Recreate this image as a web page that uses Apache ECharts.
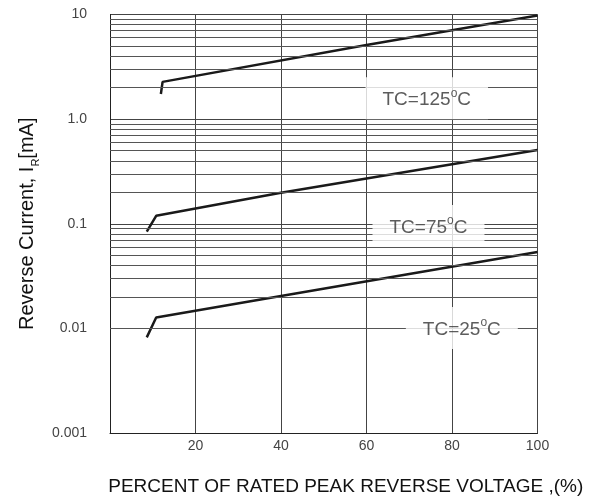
<!DOCTYPE html>
<html>
<head>
<meta charset="utf-8">
<script src="https://cdn.jsdelivr.net/npm/echarts@6/dist/echarts.min.js"></script>
<style>
html,body{margin:0;padding:0;background:#fff;}
#c{width:592px;height:499px;}
</style>
</head>
<body>
<div id="c"></div>
<script>
// ---- data ----
var x25 = [8.6, 10.8, 40, 100];
var y25 = [0.0082, 0.0127, 0.0204, 0.0537];
var x75 = [8.6, 10.8, 40, 100];
var y75 = [0.084, 0.119, 0.198, 0.508];
var x125 = [11.9, 12.3, 60, 100];
var y125 = [1.74, 2.27, 5.1, 9.8];

var labelXs = [74.1, 74.5, 82.3];
var labelYs = [1.58, 0.0953, 0.0101];
var labelTemps = ['125', '75', '25'];

var yTickLabels = ['0.001', '0.01', '0.1', '1.0', '10'];
var xTickLabels = ['', '20', '40', '60', '80', '100'];

function pairs(xs, ys) { return xs.map(function (x, i) { return [x, ys[i]]; }); }

// minor log grid lines (2..9 in each decade)
var minorLines = [];
[0.001, 0.01, 0.1, 1].forEach(function (d) {
  for (var k = 2; k <= 9; k++) minorLines.push({ yAxis: k * d });
});

var curveStyle = { color: '#1a1a1a', width: 2.5 };

var chart = echarts.init(document.getElementById('c'), null, { renderer: 'canvas' });
chart.setOption({
  animation: false,
  backgroundColor: '#fff',
  grid: { left: 110, right: 54.5, top: 14.5, bottom: 66, containLabel: false, outerBoundsMode: 'none' },
  xAxis: {
    type: 'value', min: 0, max: 100, interval: 20,
    axisLine: { show: true, lineStyle: { color: '#222', width: 1 } },
    axisTick: { show: false },
    axisLabel: {
      margin: 6, color: '#444', fontSize: 14, fontFamily: 'Liberation Sans',
      formatter: function (v) { return xTickLabels[Math.round(v / 20)]; }
    },
    splitLine: { show: true, lineStyle: { color: '#444', width: 1 } },
    name: 'PERCENT OF RATED PEAK REVERSE VOLTAGE ,(%)',
    nameLocation: 'middle', nameGap: 44,
    nameTextStyle: { fontSize: 19, color: '#111', fontFamily: 'Liberation Sans', padding: [0, 0, 0, 44] }
  },
  yAxis: {
    type: 'log', logBase: 10, min: 0.001, max: 10,
    axisLine: { show: true, lineStyle: { color: '#222', width: 1 } },
    axisTick: { show: false },
    axisLabel: {
      margin: 23, color: '#444', fontSize: 14, fontFamily: 'Liberation Sans',
      formatter: function (v) { return yTickLabels[Math.round(Math.log10(v)) + 3]; }
    },
    splitLine: { show: true, lineStyle: { color: '#444', width: 1 } },
    name: '{a|Reverse Current, I}{b|R}{a|[mA]}',
    nameLocation: 'middle', nameGap: 67, nameRotate: 90,
    nameTextStyle: {
      rich: {
        a: { fontSize: 20, color: '#111', fontFamily: 'Liberation Sans', lineHeight: 24, verticalAlign: 'top' },
        b: { fontSize: 11, color: '#111', fontFamily: 'Liberation Sans', lineHeight: 24, verticalAlign: 'bottom' }
      }
    }
  },
  series: [
    {
      name: 'minorgrid', type: 'line', data: [], z: 1, silent: true,
      markLine: {
        silent: true, symbol: ['none', 'none'], label: { show: false },
        lineStyle: { color: '#555', width: 1, type: 'solid' },
        emphasis: { disabled: true },
        data: minorLines
      }
    },
    { name: 'TC=25', type: 'line', data: pairs(x25, y25), showSymbol: false, lineStyle: curveStyle, z: 3 },
    { name: 'TC=75', type: 'line', data: pairs(x75, y75), showSymbol: false, lineStyle: curveStyle, z: 3 },
    { name: 'TC=125', type: 'line', data: pairs(x125, y125), showSymbol: false, lineStyle: curveStyle, z: 3 },
    {
      name: 'labels', type: 'scatter', z: 5, symbolSize: 0, silent: true,
      data: labelXs.map(function (x, i) { return { value: [x, labelYs[i]], t: labelTemps[i] }; }),
      label: {
        show: true, position: 'inside',
        backgroundColor: '#fff', padding: [10, 17],
        formatter: function (p) { return '{t|TC=' + p.data.t + '}{s|o}{t|C}'; },
        rich: {
          t: { fontSize: 19, color: '#333', fontFamily: 'Liberation Sans', lineHeight: 22, verticalAlign: 'bottom' },
          s: { fontSize: 12, color: '#333', fontFamily: 'Liberation Sans', lineHeight: 22, verticalAlign: 'top' }
        }
      }
    }
  ]
});
</script>
</body>
</html>
